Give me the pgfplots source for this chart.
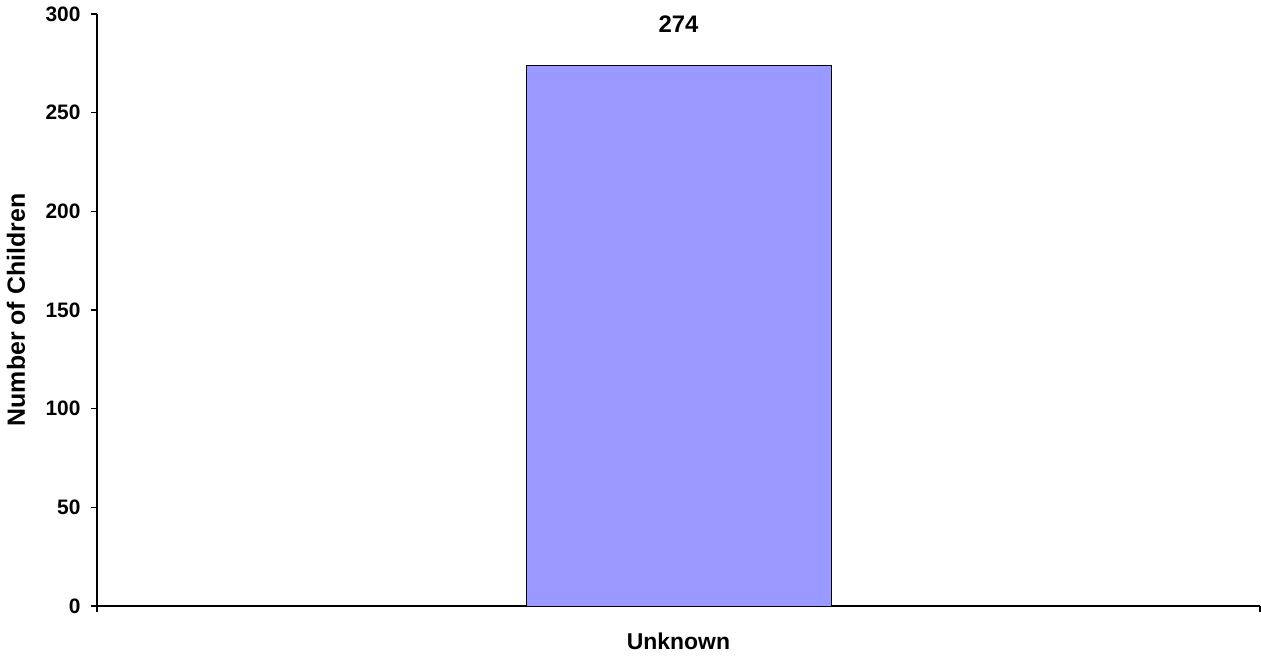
\documentclass[border=0pt]{standalone}
\usepackage{fontspec}
\setmainfont{Liberation Sans}
\usepackage{pgfplots}
\pgfplotsset{compat=1.18}
\definecolor{barblue}{HTML}{9999FF}
\begin{document}
\begin{tikzpicture}
\begin{axis}[
    name=main,
    scale only axis=true,
    width=1163bp, height=592bp,
    xmin=0, xmax=1,
    ymin=0, ymax=300,
    axis x line=bottom, axis y line=left,
    axis line style={-, line width=1.2bp, black},
    tick style={line width=1.2bp, black},
    tick align=outside,
    major tick length=6bp,
    ytick={0,50,...,300},
    xtick={0,1}, xticklabels={},
    extra x ticks={0.5}, extra x tick labels={Unknown},
    extra x tick style={major tick length=0pt},
    yticklabel style={font=\fontsize{21}{25}\selectfont\bfseries, xshift=-7bp},
    xticklabel style={font=\fontsize{23}{27}\selectfont\bfseries, yshift=-23bp},
    /pgf/number format/assume math mode=true,
    ylabel={Number of Children},
    every axis y label/.style={at={(rel axis cs:0,0.5)}, xshift=-81bp, rotate=90, anchor=center,
        font=\fontsize{25}{29}\selectfont\bfseries},
    nodes near coords,
    every node near coord/.append style={font=\fontsize{24}{28}\selectfont\bfseries, anchor=south, inner sep=0pt, yshift=32bp},
    clip=false,
]
\addplot[ybar, bar width=305bp, fill=barblue, draw=black, line width=0.9bp] coordinates {(0.5,274)};
\end{axis}
\pgfresetboundingbox
\path (main.south west) ++(-97bp,-50bp) rectangle ++(1261bp,656bp);
\end{tikzpicture}
\end{document}
